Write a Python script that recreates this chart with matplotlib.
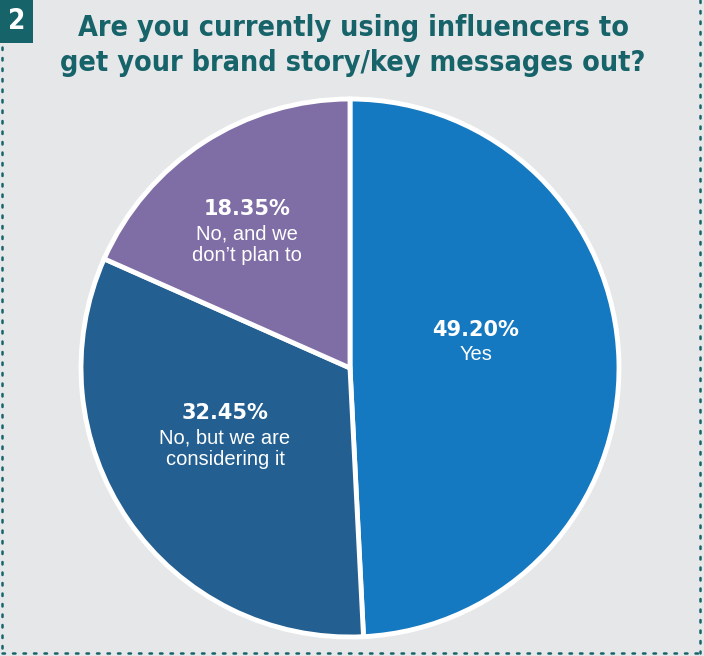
import matplotlib
matplotlib.use("Agg")
import matplotlib.pyplot as plt
from matplotlib.patches import Rectangle

# data
labels = ["Yes", "No, but we are\nconsidering it", "No, and we\ndon\u2019t plan to"]
shares = [49.20, 32.45, 18.35]
colors = ["#1479c0", "#235f91", "#7f6da5"]
# percentage text centres in pixel coords (x, y from top)
label_pos = [(476, 330), (225, 413), (247, 209)]

W, H = 704, 656
teal = "#17636a"
bg = "#e6e7e9"

fig = plt.figure(figsize=(W / 100, H / 100), dpi=100)
fig.patch.set_facecolor(bg)
ax = fig.add_axes([0, 0, 1, 1])
ax.set_xlim(0, W)
ax.set_ylim(0, H)
ax.set_aspect("equal")
ax.axis("off")

def py(y):
    return H - y

# pie
ax.pie(shares, colors=colors, startangle=90, counterclock=False,
       center=(350, py(368)), radius=269,
       wedgeprops=dict(edgecolor="white", linewidth=3.5))
ax.set_xlim(0, W)
ax.set_ylim(0, H)

for (x, y), s, lab in zip(label_pos, shares, labels):
    ax.text(x, py(y), f"{s:.2f}%", ha="center", va="center", color="white",
            fontsize=15, fontweight="bold", family="DejaVu Sans")
    ax.text(x, py(y + 15), lab, ha="center", va="top", color="white",
            fontsize=14.5, family="Liberation Sans", linespacing=1.2)

# number box
ax.add_patch(Rectangle((0, py(43)), 33, 43, color=teal, lw=0))
ax.text(16.5, py(21), "2", ha="center", va="center", color="white",
        fontsize=20, fontweight="bold", family="DejaVu Sans", fontstretch="condensed")

# title
tkw = dict(ha="center", va="center", color=teal, fontsize=20.6, fontweight="bold",
           family="DejaVu Sans", fontstretch="condensed")
ax.text(353, py(28), "Are you currently using influencers to", **tkw)
ax.text(353, py(63), "get your brand story/key messages out?", **tkw)

# dotted frame
dot = dict(color=teal, lw=1.8, linestyle=(0, (1, 3.2)), dash_capstyle="round")
ax.plot([2, 2], [py(47), py(653)], **dot)
ax.plot([700, 700], [py(0), py(653)], **dot)
ax.plot([2, 700], [py(653), py(653)], **dot)

fig.savefig("out.png", dpi=100, facecolor=bg)
